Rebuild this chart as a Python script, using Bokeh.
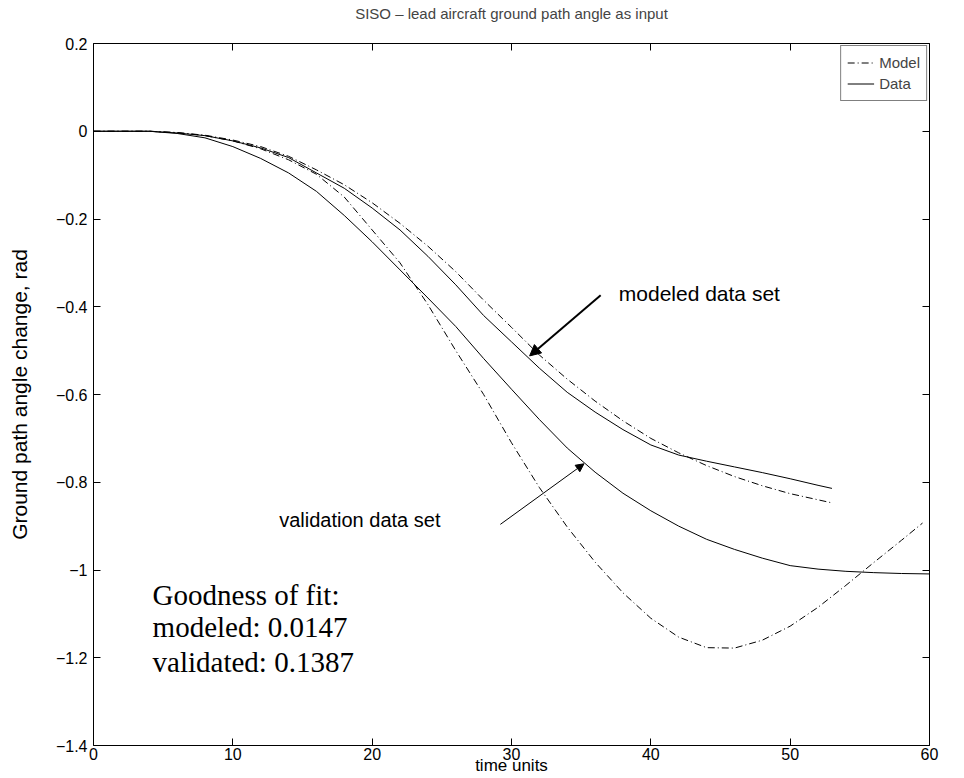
from bokeh.plotting import figure
from bokeh.models import (ColumnDataSource, Legend, LegendItem, LinearAxis, FixedTicker,
                          Arrow, NormalHead, Range1d)
from bokeh.core.properties import value
from bokeh.embed import file_html
from bokeh.resources import INLINE

# ---- data ----
t_modeled = [0, 2, 4, 6, 8, 10, 12, 14, 16, 18, 20, 22, 24, 26, 28, 30, 32, 34, 36, 38,
             40, 42, 44, 46, 48, 50, 52, 53]
data_modeled = [0, 0, 0, -0.004, -0.010, -0.022, -0.038, -0.060, -0.095, -0.130, -0.175,
                -0.225, -0.285, -0.350, -0.420, -0.480, -0.540, -0.595, -0.640, -0.680,
                -0.715, -0.738, -0.752, -0.765, -0.778, -0.792, -0.807, -0.814]
model_modeled = [0, 0, 0, -0.003, -0.009, -0.020, -0.035, -0.057, -0.088, -0.122, -0.163,
                 -0.210, -0.262, -0.320, -0.385, -0.447, -0.510, -0.565, -0.615, -0.660,
                 -0.700, -0.733, -0.762, -0.787, -0.808, -0.826, -0.840, -0.847]

t_valid = [0, 2, 4, 6, 8, 10, 12, 14, 16, 18, 20, 22, 24, 26, 28, 30, 32, 34, 36, 38,
           40, 42, 44, 46, 48, 50, 52, 54, 56, 58, 60]
data_valid = [0, 0, 0, -0.005, -0.015, -0.035, -0.062, -0.095, -0.137, -0.192, -0.252,
              -0.316, -0.380, -0.445, -0.518, -0.588, -0.657, -0.722, -0.777, -0.825,
              -0.865, -0.900, -0.930, -0.953, -0.973, -0.990, -0.998, -1.003, -1.006,
              -1.008, -1.009]
t_valid_model = [0, 2, 4, 6, 8, 10, 12, 14, 16, 18, 20, 22, 24, 26, 28, 30, 32, 34, 36, 38,
                 40, 42, 44, 46, 48, 50, 52, 54, 56, 58, 59.5]
model_valid = [0, 0, 0, -0.003, -0.010, -0.022, -0.040, -0.065, -0.098, -0.150, -0.225,
               -0.300, -0.395, -0.500, -0.600, -0.710, -0.812, -0.902, -0.982, -1.052,
               -1.110, -1.153, -1.177, -1.178, -1.160, -1.128, -1.085, -1.035, -0.983,
               -0.932, -0.893]

x_ticks = [0, 10, 20, 30, 40, 50, 60]
x_tick_labels = ["0", "10", "20", "30", "40", "50", "60"]
y_ticks = [-1.4, -1.2, -1.0, -0.8, -0.6, -0.4, -0.2, 0.0, 0.2]
y_tick_labels = ["\u22121.4", "\u22121.2", "\u22121", "\u22120.8", "\u22120.6", "\u22120.4",
                 "\u22120.2", "0", "0.2"]

title_text = "SISO \u2013 lead aircraft ground path angle as input"
x_label = "time units"
y_label = "Ground path angle change, rad"
legend_labels = ["Model", "Data"]
fit_lines = ["Goodness of fit:", "modeled: 0.0147", "validated: 0.1387"]

FONT = "Liberation Sans"
DASHDOT = "7 3 1 3"

p = figure(width=964, height=778, output_backend="svg", toolbar_location=None,
           x_range=Range1d(0, 60), y_range=Range1d(-1.4, 0.2),
           min_border_left=93, min_border_right=35, min_border_top=43, min_border_bottom=33)
p.background_fill_color = "white"
p.border_fill_color = "white"
p.outline_line_color = "black"
p.outline_line_width = 1
p.xgrid.visible = False
p.ygrid.visible = False

p.title.text = title_text
p.title.align = "center"
p.title.vertical_align = "top"
p.title.text_font = FONT
p.title.text_font_size = "15px"
p.title.text_font_style = "normal"
p.title.standoff = 4

src_dm = ColumnDataSource(dict(t=t_modeled, v=data_modeled))
src_mm = ColumnDataSource(dict(t=t_modeled, v=model_modeled))
src_dv = ColumnDataSource(dict(t=t_valid, v=data_valid))
src_mv = ColumnDataSource(dict(t=t_valid_model, v=model_valid))

r_mm = p.line("t", "v", source=src_mm, line_color="black", line_width=1, line_dash=DASHDOT)
r_dm = p.line("t", "v", source=src_dm, line_color="black", line_width=1)
r_mv = p.line("t", "v", source=src_mv, line_color="black", line_width=1, line_dash=DASHDOT)
r_dv = p.line("t", "v", source=src_dv, line_color="black", line_width=1)

def style_axis(ax, show_labels):
    ax.axis_line_color = None
    ax.major_tick_in = 7
    ax.major_tick_out = 0
    ax.minor_tick_line_color = None
    ax.major_tick_line_color = "black"
    if show_labels:
        ax.major_label_text_font = FONT
        ax.major_label_text_font_size = "16px"
        ax.major_label_text_color = "black"
        ax.axis_label_text_font = FONT
        ax.axis_label_text_font_style = "normal"
        ax.axis_label_text_color = "black"
    else:
        ax.major_label_text_font_size = "0px"
        ax.major_label_text_color = None
        ax.major_label_standoff = 0

p.xaxis.ticker = FixedTicker(ticks=x_ticks)
p.yaxis.ticker = FixedTicker(ticks=y_ticks)
p.xaxis.major_label_overrides = {k: v for k, v in zip(x_ticks, x_tick_labels)}
p.yaxis.major_label_overrides = {k: v for k, v in zip(y_ticks, y_tick_labels)}
for ax in p.xaxis + p.yaxis:
    style_axis(ax, True)
p.xaxis.axis_label = x_label
p.yaxis.axis_label = y_label
p.xaxis.axis_label_text_font_size = "17px"
p.yaxis.axis_label_text_font_size = "21px"
p.xaxis.major_label_standoff = 2
p.xaxis.axis_label_standoff = -7
p.yaxis.major_label_standoff = 6
p.yaxis.axis_label_standoff = 22

ax_top = LinearAxis(ticker=FixedTicker(ticks=x_ticks))
ax_right = LinearAxis(ticker=FixedTicker(ticks=y_ticks))
style_axis(ax_top, False)
style_axis(ax_right, False)
p.add_layout(ax_top, "above")
p.add_layout(ax_right, "right")

# invisible spacer axis: lifts the title away from the frame
ax_space = LinearAxis(ticker=FixedTicker(ticks=x_ticks))
style_axis(ax_space, False)
ax_space.major_tick_in = 0
ax_space.major_tick_out = 18
ax_space.major_tick_line_color = None
p.add_layout(ax_space, "above")

legend = Legend(items=[LegendItem(label=legend_labels[0], renderers=[r_mm]),
                       LegendItem(label=legend_labels[1], renderers=[r_dm])],
                location="top_right")
legend.margin = 2
legend.padding = 6
legend.spacing = 0
legend.glyph_width = 27
legend.glyph_height = 21
legend.label_standoff = 5
legend.label_text_font = FONT
legend.label_text_font_size = "15px"
legend.border_line_color = "black"
legend.border_line_width = 1
legend.background_fill_alpha = 1
legend.background_fill_color = "white"
p.add_layout(legend, "center")

# annotations
p.text(x=[37.7], y=[-0.37], text=["modeled data set"], text_font=value(FONT),
       text_font_size="21px", text_align="left", text_baseline="middle", text_color="black")
p.text(x=[24.9], y=[-0.885], text=["validation data set"], text_font=value(FONT),
       text_font_size="20px", text_align="right", text_baseline="middle", text_color="black")
p.add_layout(Arrow(end=NormalHead(size=11, fill_color="black", line_color="black"),
                   x_start=36.4, y_start=-0.374, x_end=31.3, y_end=-0.512,
                   line_color="black", line_width=2))
p.add_layout(Arrow(end=NormalHead(size=8, fill_color="black", line_color="black"),
                   x_start=29.2, y_start=-0.896, x_end=35.2, y_end=-0.758,
                   line_color="black", line_width=1))
p.text(x=[4.24, 4.24, 4.24], y=[-1.056, -1.131, -1.209], text=fit_lines,
       text_font=value("Liberation Serif"), text_font_size="29px", text_align="left",
       text_baseline="alphabetic", text_color="black")

open("out.html", "w").write(file_html(p, INLINE))
